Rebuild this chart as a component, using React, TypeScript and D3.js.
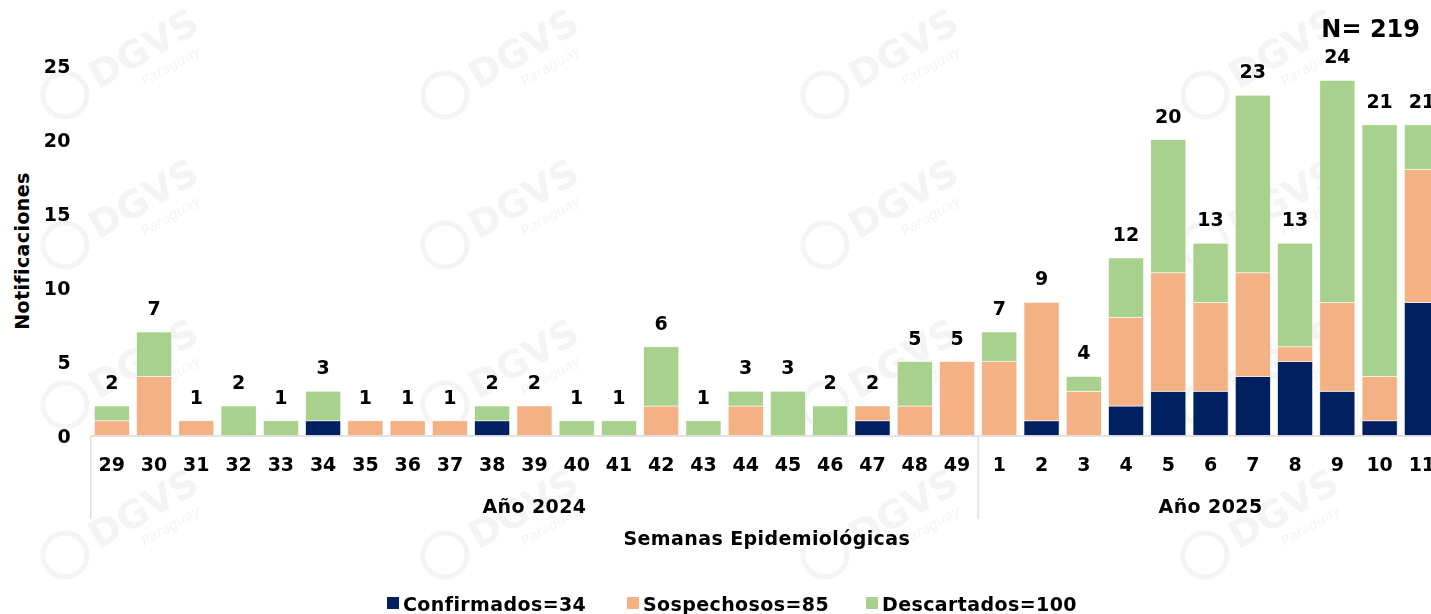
import React from "react";
import * as d3 from "d3";

const weeks = ["29","30","31","32","33","34","35","36","37","38","39","40","41","42","43","44","45","46","47","48","49","1","2","3","4","5","6","7","8","9","10","11"];
const years = ["2024","2024","2024","2024","2024","2024","2024","2024","2024","2024","2024","2024","2024","2024","2024","2024","2024","2024","2024","2024","2024","2025","2025","2025","2025","2025","2025","2025","2025","2025","2025","2025"];
const confirmados = [0,0,0,0,0,1,0,0,0,1,0,0,0,0,0,0,0,0,1,0,0,0,1,0,2,3,3,4,5,3,1,9];
const sospechosos = [1,4,1,0,0,0,1,1,1,0,2,0,0,2,0,2,0,0,1,2,5,5,8,3,6,8,6,7,1,6,3,9];
const descartados = [1,3,0,2,1,2,0,0,0,1,0,1,1,4,1,1,3,2,0,3,0,2,0,1,4,9,4,12,7,15,17,3];
const yTicks = [0,5,10,15,20,25];
const seriesNames = ["Confirmados","Sospechosos","Descartados"];
const seriesColors = ["#002060","#F4B183","#A9D18E"];

const W = 1431, H = 614;
const FONT = "'DejaVu Sans', 'Open Sans', sans-serif";
const FS = 19;
const LS = 0.4;

export default function App() {
  const x = d3.scaleBand<string>().domain(weeks.map((w, i) => i + "")).range([90.7, 1443]).paddingInner(0.17).paddingOuter(0.085);
  const y = d3.scaleLinear().domain([0, 25]).range([435.6, 65.6]);
  const rows = weeks.map((w, i) => ({ key: i + "", Confirmados: confirmados[i], Sospechosos: sospechosos[i], Descartados: descartados[i] }));
  const stack = d3.stack<any>().keys(seriesNames)(rows);
  const totals = weeks.map((w, i) => confirmados[i] + sospechosos[i] + descartados[i]);
  const sums = [d3.sum(confirmados), d3.sum(sospechosos), d3.sum(descartados)];
  const N = d3.sum(totals);

  const step = x.step();
  const leftEdge = 90.7;
  const yearGroups = ["2024", "2025"].map((yr) => {
    const idx = years.map((v, i) => (v === yr ? i : -1)).filter((i) => i >= 0);
    const x0 = x(idx[0] + "")! - (step - x.bandwidth()) / 2;
    const x1 = x(idx[idx.length - 1] + "")! + x.bandwidth() + (step - x.bandwidth()) / 2;
    return { yr, x0, x1 };
  });

  const wmX = [150, 530, 910, 1290];
  const wmY = [60, 210, 370, 520];

  const legendX = [387, 627, 866];

  return (
    <svg width={W} height={H} style={{ position: "fixed", left: 0, top: 0, background: "#fff" }} fontFamily={FONT}>
      <rect width={W} height={H} fill="#fff" />
      {/* watermarks */}
      <g opacity={0.4}>
        {wmY.map((wy, j) =>
          wmX.map((wx, k) => (
            <g key={j + "-" + k} transform={`translate(${wx},${wy})`}>
              <circle cx={-85} cy={35} r={22} fill="none" stroke="#e3e3e3" strokeWidth={5} />
              <text transform="rotate(-30)" fontSize={38} fontWeight={800} fill="#e4e4e4" textAnchor="middle" x={0} y={0}>DGVS</text>
              <text transform="rotate(-30) translate(15,20)" fontSize={14} fontStyle="italic" fill="#e4e4e4" textAnchor="middle">Paraguay</text>
            </g>
          ))
        )}
      </g>

      {/* N */}
      <text x={1420} y={37} textAnchor="end" fontSize={24} fontWeight={700} fill="#000">{`N= ${N}`}</text>

      {/* y axis */}
      {yTicks.map((t) => (
        <text key={t} x={71} y={y(t) + 7} textAnchor="end" fontSize={FS} fontWeight={700} fill="#000" letterSpacing={LS}>{t}</text>
      ))}
      <text transform={`translate(29,251) rotate(-90)`} textAnchor="middle" fontSize={FS} fontWeight={700} fill="#000" letterSpacing={LS}>Notificaciones</text>

      {/* bars */}
      {stack.map((s, si) => (
        <g key={s.key} fill={seriesColors[si]}>
          {s.map((d: any, i: number) => (
            d[1] - d[0] > 0 ? (
              <rect key={i} x={x(i + "")} y={y(d[1])} width={x.bandwidth()} height={y(d[0]) - y(d[1])} stroke="#fff" strokeWidth={0.6} />
            ) : null
          ))}
        </g>
      ))}
      {totals.map((t, i) => (
        <text key={i} x={x(i + "")! + x.bandwidth() / 2} y={y(t) - 17} textAnchor="middle" fontSize={FS} fontWeight={700} fill="#000">{t}</text>
      ))}

      {/* x axis */}
      <line x1={leftEdge} x2={1443} y1={436} y2={436} stroke="#d9d9d9" strokeWidth={1.5} />
      {yearGroups.map((g) => (
        <line key={g.yr} x1={g.x0} x2={g.x0} y1={436} y2={519} stroke="#d9d9d9" strokeWidth={1.2} />
      ))}
      {weeks.map((w, i) => (
        <text key={i} x={x(i + "")! + x.bandwidth() / 2} y={471} textAnchor="middle" fontSize={FS} fontWeight={700} fill="#000">{w}</text>
      ))}
      {yearGroups.map((g) => (
        <text key={g.yr} x={(g.x0 + g.x1) / 2} y={513} textAnchor="middle" fontSize={FS} fontWeight={700} fill="#000" letterSpacing={LS}>{`Año ${g.yr}`}</text>
      ))}
      <text x={(leftEdge + 1443) / 2} y={545} textAnchor="middle" fontSize={FS} fontWeight={700} fill="#000" letterSpacing={LS}>Semanas Epidemiológicas</text>

      {/* legend */}
      {seriesNames.map((n, i) => (
        <g key={n}>
          <rect x={legendX[i]} y={597} width={12} height={12} fill={seriesColors[i]} />
          <text x={legendX[i] + 16} y={611} fontSize={FS} fontWeight={700} fill="#000" letterSpacing={LS}>{`${n}=${sums[i]}`}</text>
        </g>
      ))}
    </svg>
  );
}
